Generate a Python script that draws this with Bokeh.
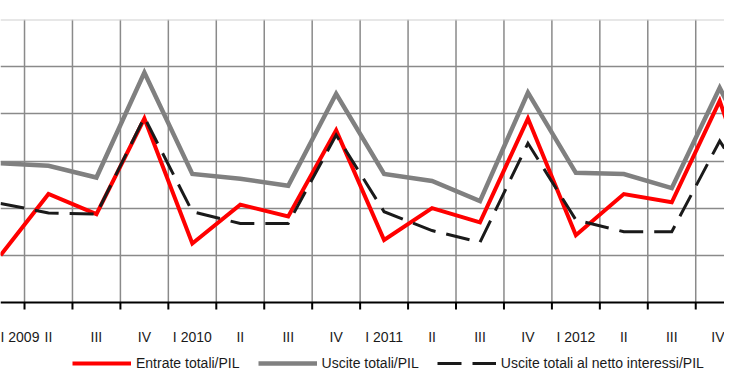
from bokeh.plotting import figure
from bokeh.models import FixedTicker, Span, Legend, LegendItem, ColumnDataSource
from bokeh.embed import file_html
from bokeh.resources import INLINE

# --- data (quarters; last one only partially visible at the right edge) ---
quarters = ["I 2009", "II", "III", "IV", "I 2010", "II", "III", "IV",
            "I 2011", "II", "III", "IV", "I 2012", "II", "III", "IV", "I 2013"]
entrate = [40.0, 45.2, 43.5, 51.6, 41.0, 44.3, 43.3, 50.6,
           41.3, 44.0, 42.8, 51.6, 41.7, 45.2, 44.5, 53.1, 41.3]
uscite = [47.8, 47.6, 46.6, 55.5, 46.9, 46.5, 45.9, 53.7,
          46.9, 46.3, 44.6, 53.8, 47.0, 46.9, 45.7, 54.2, 46.3]
uscite_netto = [44.4, 43.6, 43.5, 51.7, 43.7, 42.7, 42.7, 50.2,
                43.7, 42.1, 41.1, 49.5, 43.0, 42.0, 42.0, 49.7, 43.4]
series_names = ["Entrate totali/PIL", "Uscite totali/PIL",
                "Uscite totali al netto interessi/PIL"]
y_grid = [40, 44, 48, 52, 56]
y_bottom, y_top = 36, 60

FONT = "Liberation Sans"
GRID = "#8a8a8a"

# layout: plot area 283px tall (y_bottom..y_top), then 71px below it for labels + legend
W, H, TOP, PLOT_H = 724, 373, 19, 283
below_px = H - TOP - PLOT_H
units_per_px = (y_top - y_bottom) / PLOT_H
y_start = y_bottom - below_px * units_per_px
tick_len = 7 * units_per_px

xs = list(range(len(quarters)))
bounds = [i + 0.5 for i in range(-1, len(quarters))]   # category boundaries
src = ColumnDataSource(dict(x=xs, entrate=entrate, uscite=uscite, netto=uscite_netto))
grid_src = ColumnDataSource(dict(x=bounds, y0=[y_bottom] * len(bounds),
                                 y1=[y_top] * len(bounds),
                                 yt=[y_bottom - tick_len] * len(bounds)))

p = figure(width=W, height=H, x_range=(-0.001, 15.1), y_range=(y_start, y_top),
           output_backend="svg", toolbar_location=None,
           min_border_left=0, min_border_right=0, min_border_top=TOP, min_border_bottom=0)
p.outline_line_color = None
p.background_fill_color = "white"
p.border_fill_color = "white"

# x axis drawn at y_bottom: labels at category centres
p.xaxis.fixed_location = y_bottom
p.xaxis.ticker = FixedTicker(ticks=xs)
p.xaxis.major_label_overrides = {i: q for i, q in enumerate(quarters)}
p.xaxis.major_tick_line_color = None
p.xaxis.minor_tick_line_color = None
p.xaxis.major_tick_out = 6
p.xaxis.major_tick_in = 0
p.xaxis.axis_line_color = None
p.xaxis.major_label_standoff = 20
p.xaxis.major_label_text_font = FONT
p.xaxis.major_label_text_font_size = "14px"
p.xaxis.major_label_text_color = "#1a1a1a"

p.yaxis.visible = False

# grid: vertical lines at category boundaries (only within the plot area)
p.xgrid.visible = False
p.segment(x0="x", y0="y0", x1="x", y1="y1", source=grid_src,
          line_color=GRID, line_width=1.5, level="underlay")
p.ygrid.ticker = FixedTicker(ticks=y_grid)
p.ygrid.grid_line_color = GRID
p.ygrid.grid_line_width = 1.5
p.add_layout(Span(location=y_top, dimension="width", line_color="#cfcfcf", line_width=2))

r_gray = p.line("x", "uscite", source=src, line_color="#808080", line_width=4.5, line_join="miter")
r_red = p.line("x", "entrate", source=src, line_color="#ff0000", line_width=4, line_join="miter")
r_dash = p.line("x", "netto", source=src, line_color="#1a1a1a", line_width=3,
                line_dash="24 11", line_join="miter")

# axis line and tick marks at category boundaries
p.segment(x0="x", y0="y0", x1="x", y1="yt", source=grid_src,
          line_color="black", line_width=2)
p.add_layout(Span(location=y_bottom, dimension="width", line_color="black", line_width=2))

legend = Legend(items=[LegendItem(label=series_names[0], renderers=[r_red]),
                       LegendItem(label=series_names[1], renderers=[r_gray]),
                       LegendItem(label=series_names[2], renderers=[r_dash])],
                orientation="horizontal", location=(72, 2))
legend.border_line_color = None
legend.background_fill_alpha = 0
legend.padding = 0
legend.margin = 0
legend.spacing = 18
legend.glyph_width = 59
legend.glyph_height = 16
legend.label_height = 16
legend.label_standoff = 5
legend.label_text_font = FONT
legend.label_text_font_size = "14px"
legend.label_text_color = "#1a1a1a"
p.add_layout(legend, "center")

open("out.html", "w").write(file_html(p, INLINE))
